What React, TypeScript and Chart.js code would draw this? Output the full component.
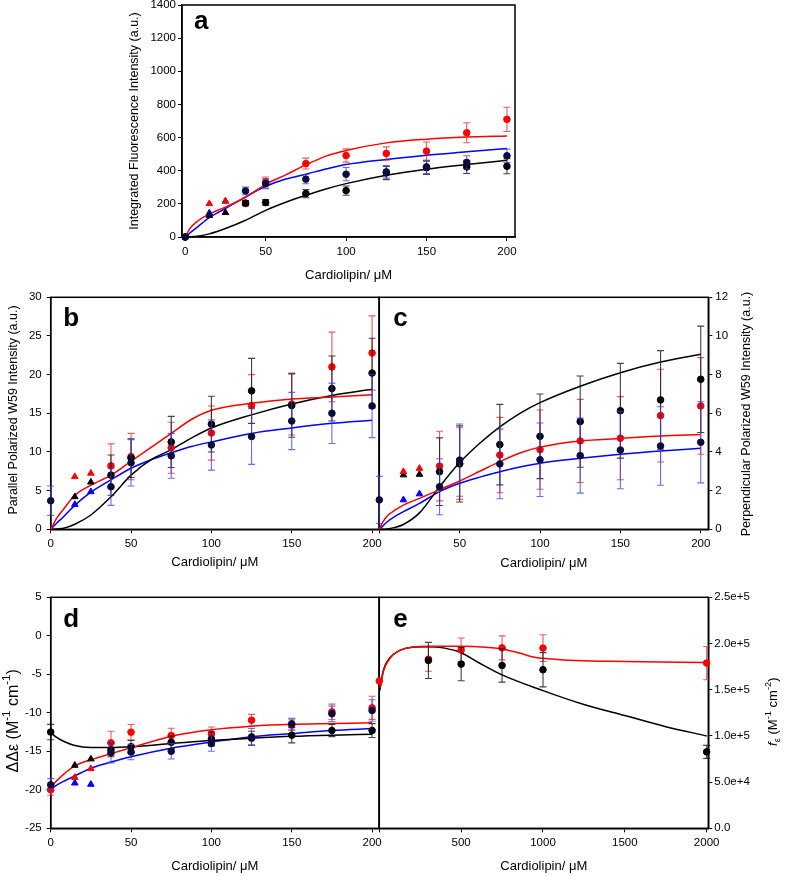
import React, { useEffect, useRef } from "react";
import { Chart, registerables } from "chart.js";
Chart.register(...registerables);

const FONT = "'Liberation Sans', Arial, Helvetica, sans-serif";
const RED = "#ff0000";
const BLACK = "#000000";
const BLUE = "#0000ff";
const NAVY = "#0b0b3d";
const RED_ERR = "rgba(225,40,40,0.75)";
const BLACK_ERR = "rgba(20,20,20,0.8)";
const BLUE_ERR = "rgba(60,60,225,0.75)";

// shared concentrations (µM)
const concX = [0, 37.5, 50, 75, 100, 125, 150, 175, 200];
const triX = [15, 25];
const concTicks = [0, 50, 100, 150, 200];

// ---------- panel a ----------
const aRed = [0, 202, 332, 443, 492, 504, 518, 629, 710];
const aRedErr = [0, 15, 30, 33, 40, 40, 55, 60, 73];
const aBlack = [0, 205, 208, 262, 280, 386, 418, 423, 427];
const aBlackErr = [0, 15, 18, 25, 28, 40, 40, 40, 45];
const aBlue = [0, 278, 322, 349, 379, 393, 423, 450, 490];
const aBlueErr = [0, 23, 30, 28, 40, 38, 40, 40, 40];
const aRedTri = [201, 216];
const aBlackTri = [130, 147];
const aBlueTri = [145, 216];
const aFitX = [0, 3, 7.5, 15, 25, 37.5, 50, 62.5, 75, 87.5, 100, 125, 150, 175, 200];
const aRedFit = [0, 52, 95, 140, 180, 240, 318, 375, 435, 488, 522, 568, 590, 603, 610];
const aBlueFit = [0, 25, 60, 117, 172, 242, 306, 350, 379, 410, 437, 468, 494, 514, 534];
const aBlackFit = [0, 1, 5, 19, 51, 101, 161, 210, 252, 290, 322, 373, 409, 437, 463];
const aYTicks = [0, 200, 400, 600, 800, 1000, 1200, 1400];

// ---------- panel b ----------
const bRed = [null, 8.2, 9.4, 10.55, 12.45, 16.0, 16.2, 21.0, 22.8];
const bRedErr = [0, 2.85, 3.0, 3.3, 3.5, 4.0, 4.0, 4.5, 4.8];
const bBlack = [null, 7.0, 9.2, 11.3, 13.6, 17.9, 16.0, 18.2, 20.2];
const bBlackErr = [0, 2.6, 2.5, 3.3, 3.6, 4.2, 4.1, 4.2, 4.5];
const bBlue = [3.7, 5.5, 8.6, 9.5, 10.9, 12.0, 14.0, 15.0, 15.95];
const bBlueErr = [1.9, 2.4, 3.0, 2.9, 3.25, 3.6, 3.7, 3.9, 4.1];
const bRedTri = [6.8, 7.24];
const bBlackTri = [4.2, 6.1];
const bBlueTri = [3.2, 4.86];
const bFitX = [0, 4, 8, 15, 25, 37.5, 50, 62.5, 75, 87.5, 100, 125, 150, 175, 200];
const bRedFit = [0, 1.5, 2.6, 4.4, 5.7, 7.0, 8.8, 10.6, 12.4, 14.2, 15.4, 16.3, 16.85, 17.1, 17.4];
const bBlackFit = [0, 0.05, 0.13, 0.65, 1.85, 4.2, 7.0, 9.0, 10.3, 11.8, 13.1, 14.8, 16.2, 17.3, 18.1];
const bBlueFit = [0, 0.85, 1.63, 3.1, 4.8, 6.4, 7.9, 9.0, 9.9, 10.7, 11.3, 12.4, 13.1, 13.7, 14.1];
const bYTicks = [0, 5, 10, 15, 20, 25, 30];

// ---------- panel c ----------
const cRed = [null, 3.27, 3.4, 3.84, 4.12, 4.57, 4.71, 5.88, 6.38];
const cRedErr = [0, 1.8, 1.85, 1.95, 2.05, 2.15, 2.15, 2.4, 2.5];
const cBlack = [null, 2.98, 3.38, 4.38, 4.81, 5.57, 6.13, 6.69, 7.76];
const cBlackErr = [0, 1.75, 1.97, 2.08, 2.19, 2.36, 2.45, 2.55, 2.75];
const cBlue = [1.52, 2.2, 3.58, 3.38, 3.6, 3.81, 4.1, 4.31, 4.5];
const cBlueErr = [1.22, 1.45, 1.87, 1.8, 1.9, 1.94, 2.0, 2.03, 2.1];
const cRedTri = [2.98, 3.15];
const cBlackTri = [2.81, 2.84];
const cBlueTri = [1.52, 1.83];
const cFitX = [0, 2, 5, 10, 15, 25, 37.5, 50, 62.5, 75, 87.5, 100, 125, 150, 175, 200];
const cRedFit = [0, 0.35, 0.7, 1.0, 1.25, 1.6, 2.05, 2.5, 3.0, 3.5, 3.95, 4.25, 4.57, 4.7, 4.83, 4.9];
const cBlackFit = [0, 0.0, 0.02, 0.1, 0.25, 0.85, 2.2, 3.45, 4.45, 5.3, 6.0, 6.55, 7.4, 8.1, 8.65, 9.05];
const cBlueFit = [0, 0.15, 0.39, 0.68, 0.91, 1.34, 1.95, 2.38, 2.7, 2.98, 3.22, 3.42, 3.67, 3.88, 4.05, 4.19];
const cYTicks = [0, 2, 4, 6, 8, 10, 12];

// ---------- panel d ----------
const dRed = [-20.0, -13.9, -12.52, -12.96, -12.74, -10.96, -11.6, -9.87, -9.35];
const dRedErr = [0.7, 1.5, 1.0, 0.95, 0.9, 0.75, 0.7, 1.0, 1.5];
const dBlack = [-12.5, -14.8, -14.4, -13.83, -13.4, -13.3, -12.9, -12.3, -12.3];
const dBlackErr = [1.0, 0.9, 0.8, 0.8, 0.9, 0.9, 1.0, 0.8, 0.9];
const dBlue = [-19.35, -15.2, -15.1, -15.0, -14.0, -13.13, -11.43, -10.13, -9.7];
const dBlueErr = [0.8, 1.3, 1.0, 1.0, 1.0, 1.1, 0.7, 1.0, 1.4];
const dRedTri = [-18.4, -17.26];
const dBlackTri = [-16.83, -16.0];
const dBlueTri = [-19.13, -19.3];
const dFitX = [0, 3, 8, 15, 25, 37.5, 50, 75, 100, 125, 150, 175, 200];
const dRedFit = [-19.8, -19.0, -18.0, -16.9, -16.1, -15.3, -14.55, -13.05, -12.2, -11.75, -11.5, -11.4, -11.3];
const dBlackFit = [-12.5, -13.1, -13.7, -14.25, -14.5, -14.5, -14.4, -14.0, -13.6, -13.3, -13.05, -12.9, -12.8];
const dBlueFit = [-20.0, -19.5, -18.9, -18.2, -17.2, -16.4, -15.7, -14.6, -13.8, -13.1, -12.7, -12.3, -12.05];
const dYTicks = [-25, -20, -15, -10, -5, 0, 5];

// ---------- panel e ----------
const eX = [0, 300, 500, 750, 1000, 2000];
const eRed = [159400, 183000, 193000, 195300, 195000, 178800];
const eRedErr = [0, 13000, 13000, 13000, 14500, 18000];
const eBlack = [null, 181700, 177700, 176200, 171600, 82700];
const eBlackErr = [0, 19500, 18000, 18000, 18500, 7000];
const eRedFitX = [5, 25, 65, 125, 200, 300, 500, 650, 750, 850, 950, 1000, 1200, 1500, 2000];
const eRedFit = [152000, 170000, 184000, 192500, 196000, 197000, 197000, 196000, 194000, 190000, 185000, 184000, 181500, 180500, 179500];
const eBlackFitX = [3, 25, 65, 125, 200, 300, 400, 500, 600, 750, 1000, 1250, 1500, 1750, 2000];
const eBlackFit = [149000, 171000, 184500, 192500, 196000, 196500, 195000, 190000, 180000, 166000, 149000, 134000, 122000, 110000, 100000];
const eXTicks = [0, 500, 1000, 1500, 2000];
const eYTicks = [0, 50000, 100000, 150000, 200000, 250000];

// ---------- helpers ----------
type Run = [string, string];

function pts(xs: number[], ys: (number | null)[], errs?: number[]) {
  const out: any[] = [];
  xs.forEach((x, i) => {
    const y = ys[i];
    if (y === null || y === undefined) return;
    out.push({ x, y, e: errs ? errs[i] : 0 });
  });
  return out;
}

function curve(xs: number[], ys: number[], color: string) {
  return {
    data: pts(xs, ys),
    showLine: true,
    borderColor: color,
    borderWidth: 1.5,
    pointRadius: 0,
    fill: false,
    cubicInterpolationMode: "monotone",
    order: 10,
    clip: false,
  };
}

function circles(xs: number[], ys: (number | null)[], errs: number[], fill: string, errColor: string, order: number) {
  return {
    data: pts(xs, ys, errs),
    showLine: false,
    pointRadius: 3.3,
    pointStyle: "circle",
    pointBackgroundColor: fill,
    pointBorderColor: fill,
    pointBorderWidth: 1,
    errColor,
    order,
    clip: false,
  };
}

function tris(ys: number[], color: string) {
  return {
    data: pts(triX, ys),
    showLine: false,
    pointRadius: 3.8,
    pointStyle: "triangle",
    pointBackgroundColor: color,
    pointBorderColor: color,
    pointBorderWidth: 1,
    order: 0,
    clip: false,
  };
}

const errorBarPlugin = {
  id: "errbars",
  beforeDatasetDraw(chart: any, args: any) {
    const ds: any = chart.data.datasets[args.index];
    if (!ds.errColor) return;
    const meta = args.meta;
    const ys = chart.scales[meta.yAxisID];
    const ctx = chart.ctx;
    ctx.save();
    ctx.strokeStyle = ds.errColor;
    ctx.lineWidth = 1.1;
    const cap = 3.5;
    meta.data.forEach((el: any, j: number) => {
      const raw = ds.data[j];
      if (!raw || !raw.e) return;
      const x = el.x;
      const y1 = ys.getPixelForValue(raw.y + raw.e);
      const y2 = ys.getPixelForValue(raw.y - raw.e);
      ctx.beginPath();
      ctx.moveTo(x, y1);
      ctx.lineTo(x, y2);
      ctx.moveTo(x - cap, y1);
      ctx.lineTo(x + cap, y1);
      ctx.moveTo(x - cap, y2);
      ctx.lineTo(x + cap, y2);
      ctx.stroke();
    });
    ctx.restore();
  },
};

const TICK_FS = 11.5;
const XT_FS = 13;

function drawRich(ctx: CanvasRenderingContext2D, cx: number, cy: number, runs: Run[], size: number) {
  ctx.save();
  ctx.translate(cx, cy);
  ctx.rotate(-Math.PI / 2);
  const fontFor = (k: string) =>
    `${k === "it" ? "italic " : ""}${k === "sup" || k === "sub" ? size * 0.72 : size}px ${FONT}`;
  let total = 0;
  const widths = runs.map(([t, k]) => {
    ctx.font = fontFor(k);
    const w = ctx.measureText(t).width;
    total += w;
    return w;
  });
  let x = -total / 2;
  ctx.textBaseline = "middle";
  ctx.textAlign = "left";
  ctx.fillStyle = "#000";
  runs.forEach(([t, k], i) => {
    ctx.font = fontFor(k);
    const dy = k === "sup" ? -size * 0.38 : k === "sub" ? size * 0.3 : 0;
    ctx.fillText(t, x, dy);
    x += widths[i];
  });
  ctx.restore();
}

interface Panel {
  box: { left: number; top: number; width: number; height: number };
  area: { l: number; t: number; r: number; b: number };
  yPos: "left" | "right";
  x: { min: number; max: number; ticks: number[]; hideZero?: boolean };
  y: { min: number; max: number; ticks: number[]; pad: number; fmt?: (v: number) => string };
  xTitleY: number;
  title: { cx: number; cy: number; size: number; runs: Run[] };
  letter: { text: string; x: number; y: number };
  datasets: any[];
}

function makeDeco(p: Panel) {
  return {
    id: "deco",
    beforeDatasetsDraw(chart: any) {
      const ctx = chart.ctx;
      const ca = chart.chartArea;
      ctx.save();
      ctx.strokeStyle = "#000";
      ctx.lineWidth = 1.5;
      ctx.strokeRect(ca.left, ca.top, ca.right - ca.left, ca.bottom - ca.top);
      ctx.restore();
    },
    afterDraw(chart: any) {
      const ctx = chart.ctx;
      ctx.save();
      ctx.fillStyle = "#000";
      ctx.font = `bold 26px ${FONT}`;
      ctx.textBaseline = "alphabetic";
      ctx.textAlign = "left";
      ctx.fillText(p.letter.text, p.letter.x - p.box.left, p.letter.y - p.box.top);
      ctx.restore();
      drawRich(ctx, p.title.cx - p.box.left, p.title.cy - p.box.top, p.title.runs, p.title.size);
    },
  };
}

function buildConfig(p: Panel): any {
  const { box, area } = p;
  const top = area.t - box.top;
  const xScaleBottom = p.xTitleY + (XT_FS * 1.2) / 2;
  const bottom = box.top + box.height - xScaleBottom;
  const xH = xScaleBottom - area.b;
  let left: number, right: number, yW: number;
  if (p.yPos === "left") {
    left = 4;
    yW = area.l - box.left - 4;
    right = box.left + box.width - area.r;
  } else {
    right = 4;
    yW = box.left + box.width - 4 - area.r;
    left = area.l - box.left;
  }
  const gridOpts = { drawOnChartArea: false, drawTicks: true, tickLength: 4, color: "#000", lineWidth: 1 };
  const borderOpts = { display: true, color: "#000", width: 1.5 };
  return {
    type: "scatter",
    data: { datasets: p.datasets },
    options: {
      responsive: false,
      animation: false,
      events: [],
      layout: { padding: { left, right, top, bottom }, autoPadding: false },
      plugins: { legend: { display: false }, tooltip: { enabled: false } },
      scales: {
        x: {
          type: "linear",
          position: "bottom",
          min: p.x.min,
          max: p.x.max,
          afterBuildTicks: (s: any) => {
            s.ticks = p.x.ticks.map((v) => ({ value: v }));
          },
          afterFit: (s: any) => {
            s.height = xH;
          },
          ticks: {
            color: "#000",
            font: { family: FONT, size: TICK_FS },
            padding: 4,
            maxRotation: 0,
            autoSkip: false,
            callback: (v: number) => (p.x.hideZero && v === 0 ? "" : String(v)),
          },
          grid: gridOpts,
          border: borderOpts,
          title: {
            display: true,
            text: "Cardiolipin/ μM",
            color: "#000",
            font: { family: FONT, size: XT_FS },
            padding: 0,
          },
        },
        y: {
          type: "linear",
          position: p.yPos,
          min: p.y.min,
          max: p.y.max,
          afterBuildTicks: (s: any) => {
            s.ticks = p.y.ticks.map((v) => ({ value: v }));
          },
          afterFit: (s: any) => {
            s.width = yW;
          },
          ticks: {
            color: "#000",
            font: { family: FONT, size: TICK_FS },
            padding: p.y.pad,
            autoSkip: false,
            callback: (v: number) => (p.y.fmt ? p.y.fmt(v) : String(v)),
          },
          grid: gridOpts,
          border: borderOpts,
          title: { display: false },
        },
      },
    },
    plugins: [errorBarPlugin, makeDeco(p)],
  };
}

function seriesSet(
  fitX: number[], redFit: number[], blackFit: number[], blueFit: number[] | null,
  red: (number | null)[], redErr: number[], black: (number | null)[], blackErr: number[],
  blue: (number | null)[] | null, blueErr: number[] | null,
  redTri: number[] | null, blackTri: number[] | null, blueTri: number[] | null,
  xs: number[] = concX, blackFitX: number[] | null = null
) {
  const list: any[] = [];
  list.push(curve(fitX, redFit, RED));
  list.push(curve(blackFitX || fitX, blackFit, BLACK));
  if (blueFit) list.push(curve(fitX, blueFit, BLUE));
  list.push(circles(xs, red, redErr, RED, RED_ERR, 3));
  list.push(circles(xs, black, blackErr, BLACK, BLACK_ERR, 2));
  if (blue && blueErr) list.push(circles(xs, blue, blueErr, NAVY, BLUE_ERR, 1));
  if (redTri) list.push(tris(redTri, RED));
  if (blackTri) list.push(tris(blackTri, BLACK));
  if (blueTri) list.push(tris(blueTri, BLUE));
  return list;
}

const PANELS: Panel[] = [
  {
    box: { left: 0, top: -15, width: 787, height: 305 },
    area: { l: 182, t: 5, r: 515, b: 237 },
    yPos: "left",
    x: { min: -2, max: 205, ticks: concTicks },
    y: { min: 0, max: 1400, ticks: aYTicks, pad: 2 },
    xTitleY: 275,
    title: { cx: 135, cy: 121, size: 12.5, runs: [["Integrated Fluorescence Intensity (a.u.)", ""]] },
    letter: { text: "a", x: 194, y: 29.3 },
    datasets: seriesSet(aFitX, aRedFit, aBlackFit, aBlueFit, aRed, aRedErr, aBlack, aBlackErr, aBlue, aBlueErr, aRedTri, aBlackTri, aBlueTri),
  },
  {
    box: { left: 0, top: 280, width: 400, height: 300 },
    area: { l: 50.7, t: 297.3, r: 379, b: 529.3 },
    yPos: "left",
    x: { min: 0, max: 204.3, ticks: concTicks },
    y: { min: 0, max: 30, ticks: bYTicks, pad: 5 },
    xTitleY: 562,
    title: { cx: 13.3, cy: 410, size: 12.5, runs: [["Parallel Polarized W59 Intensity (a.u.)", ""]] },
    letter: { text: "b", x: 63.3, y: 326 },
    datasets: seriesSet(bFitX, bRedFit, bBlackFit, bBlueFit, bRed, bRedErr, bBlack, bBlackErr, bBlue, bBlueErr, bRedTri, bBlackTri, bBlueTri),
  },
  {
    box: { left: 360, top: 280, width: 427, height: 300 },
    area: { l: 379.3, t: 297.3, r: 708.3, b: 529.3 },
    yPos: "right",
    x: { min: 0, max: 204.7, ticks: concTicks, hideZero: true },
    y: { min: 0, max: 12, ticks: cYTicks, pad: 3 },
    xTitleY: 563,
    title: { cx: 746.7, cy: 414, size: 12.5, runs: [["Perpendicular Polarized W59 Intensity (a.u.)", ""]] },
    letter: { text: "c", x: 393.3, y: 326 },
    datasets: seriesSet(cFitX, cRedFit, cBlackFit, cBlueFit, cRed, cRedErr, cBlack, cBlackErr, cBlue, cBlueErr, cRedTri, cBlackTri, cBlueTri),
  },
  {
    box: { left: 0, top: 580, width: 400, height: 296 },
    area: { l: 50.7, t: 597.3, r: 379, b: 828.3 },
    yPos: "left",
    x: { min: 0, max: 204.3, ticks: concTicks },
    y: { min: -25, max: 5, ticks: dYTicks, pad: 5 },
    xTitleY: 866,
    title: {
      cx: 13.3,
      cy: 720.8,
      size: 16,
      runs: [["ΔΔε (M", ""], ["-1", "sup"], [" cm", ""], ["-1", "sup"], [")", ""]],
    },
    letter: { text: "d", x: 63.3, y: 626.7 },
    datasets: seriesSet(dFitX, dRedFit, dBlackFit, dBlueFit, dRed, dRedErr, dBlack, dBlackErr, dBlue, dBlueErr, dRedTri, dBlackTri, dBlueTri),
  },
  {
    box: { left: 360, top: 580, width: 427, height: 296 },
    area: { l: 379.3, t: 597.3, r: 708.3, b: 828.3 },
    yPos: "right",
    x: { min: 0, max: 2010, ticks: eXTicks, hideZero: true },
    y: {
      min: 0,
      max: 250000,
      ticks: eYTicks,
      pad: 2,
      fmt: (v: number) => (v === 0 ? "0.0" : v.toExponential(1)),
    },
    xTitleY: 866,
    title: {
      cx: 773.3,
      cy: 711.7,
      size: 13,
      runs: [["f", "it"], ["ε", "sub"], [" (M", ""], ["-1", "sup"], [" cm", ""], ["-2", "sup"], [")", ""]],
    },
    letter: { text: "e", x: 393.3, y: 627.3 },
    datasets: seriesSet(eRedFitX, eRedFit, eBlackFit, null, eRed, eRedErr, eBlack, eBlackErr, null, null, null, null, null, eX, eBlackFitX),
  },
];

export default function App() {
  const r0 = useRef<HTMLCanvasElement>(null);
  const r1 = useRef<HTMLCanvasElement>(null);
  const r2 = useRef<HTMLCanvasElement>(null);
  const r3 = useRef<HTMLCanvasElement>(null);
  const r4 = useRef<HTMLCanvasElement>(null);
  const refs = [r0, r1, r2, r3, r4];

  useEffect(() => {
    const charts = PANELS.map((p, i) => new Chart(refs[i].current as HTMLCanvasElement, buildConfig(p)));
    return () => charts.forEach((c) => c.destroy());
  }, []);

  return (
    <div style={{ position: "absolute", left: 0, top: 0, width: 787, height: 876, overflow: "hidden", background: "#fff" }}>
      {PANELS.map((p, i) => (
        <canvas
          key={i}
          ref={refs[i]}
          width={p.box.width}
          height={p.box.height}
          style={{ position: "absolute", left: p.box.left, top: p.box.top, width: p.box.width, height: p.box.height }}
        />
      ))}
    </div>
  );
}
